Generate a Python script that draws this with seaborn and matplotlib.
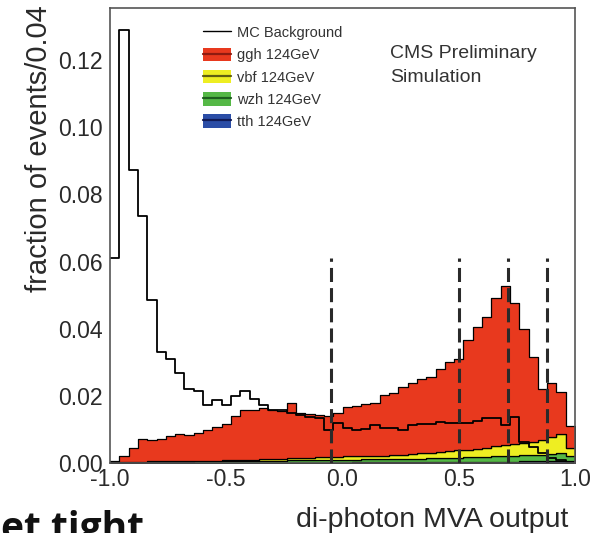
import numpy as np
import pandas as pd
import matplotlib
matplotlib.use("Agg")
import matplotlib.pyplot as plt
from matplotlib.lines import Line2D
from matplotlib.patches import Patch
from matplotlib.ticker import MultipleLocator, FormatStrFormatter
import seaborn as sns

# ---------------------------------------------------------------------------
# Di-photon MVA output, 50 bins of width 0.04 on [-1, 1]
# ---------------------------------------------------------------------------
bin_edges = np.linspace(-1.0, 1.0, 51)
bin_centers = 0.5 * (bin_edges[:-1] + bin_edges[1:])

mc_background = [
    0.0610, 0.1290, 0.0873, 0.0736, 0.0485, 0.0331, 0.0310, 0.0267, 0.0220, 0.0215,
    0.0174, 0.0188, 0.0174, 0.0200, 0.0215, 0.0190, 0.0174, 0.0159, 0.0157, 0.0149,
    0.0144, 0.0138, 0.0134, 0.0098, 0.0120, 0.0104, 0.0098, 0.0100, 0.0113, 0.0105,
    0.0105, 0.0098, 0.0113, 0.0116, 0.0116, 0.0123, 0.0119, 0.0119, 0.0119, 0.0126,
    0.0134, 0.0134, 0.0113, 0.0138, 0.0063, 0.0049, 0.0030, 0.0015, 0.0008, 0.0003,
]

ggh_124 = [
    0.0004, 0.0017, 0.0042, 0.0066, 0.0064, 0.0067, 0.0075, 0.0080, 0.0077, 0.0083,
    0.0092, 0.0101, 0.0108, 0.0132, 0.0148, 0.0149, 0.0153, 0.0145, 0.0141, 0.0166,
    0.0134, 0.0131, 0.0127, 0.0122, 0.0129, 0.0148, 0.0150, 0.0155, 0.0159, 0.0181,
    0.0184, 0.0201, 0.0211, 0.0221, 0.0225, 0.0247, 0.0265, 0.0272, 0.0326, 0.0362,
    0.0389, 0.0440, 0.0473, 0.0419, 0.0339, 0.0252, 0.0152, 0.0160, 0.0126, 0.0065,
]

vbf_124 = [
    0.00010, 0.00010, 0.00015, 0.00010, 0.00020, 0.00015, 0.00015, 0.00020, 0.00020, 0.00015,
    0.00025, 0.00020, 0.00030, 0.00025, 0.00030, 0.00040, 0.00045, 0.00050, 0.00060, 0.00065,
    0.00070, 0.00075, 0.00080, 0.00090, 0.00095, 0.00100, 0.00100, 0.00105, 0.00100, 0.00110,
    0.00115, 0.00130, 0.00145, 0.00160, 0.00175, 0.00190, 0.00200, 0.00220, 0.00230, 0.00250,
    0.00270, 0.00300, 0.00330, 0.00360, 0.00380, 0.00400, 0.00430, 0.00510, 0.00550, 0.00230,
]

wzh_124 = [
    0.00017, 0.00017, 0.00021, 0.00026, 0.00026, 0.00030, 0.00030, 0.00035, 0.00034, 0.00039,
    0.00039, 0.00043, 0.00043, 0.00047, 0.00052, 0.00051, 0.00056, 0.00060, 0.00060, 0.00064,
    0.00069, 0.00073, 0.00078, 0.00077, 0.00081, 0.00086, 0.00085, 0.00089, 0.00093, 0.00092,
    0.00096, 0.00100, 0.00104, 0.00108, 0.00111, 0.00115, 0.00123, 0.00131, 0.00139, 0.00147,
    0.00155, 0.00163, 0.00170, 0.00177, 0.00184, 0.00190, 0.00195, 0.00210, 0.00230, 0.00160,
]

tth_124 = [
    0.00003, 0.00003, 0.00004, 0.00004, 0.00004, 0.00005, 0.00005, 0.00005, 0.00006, 0.00006,
    0.00006, 0.00007, 0.00007, 0.00008, 0.00008, 0.00009, 0.00009, 0.00010, 0.00010, 0.00011,
    0.00011, 0.00012, 0.00012, 0.00013, 0.00014, 0.00014, 0.00015, 0.00016, 0.00017, 0.00018,
    0.00019, 0.00020, 0.00021, 0.00022, 0.00024, 0.00025, 0.00027, 0.00029, 0.00031, 0.00033,
    0.00035, 0.00037, 0.00040, 0.00043, 0.00046, 0.00050, 0.00055, 0.00060, 0.00070, 0.00060,
]

process_names = ["ggh 124GeV", "vbf 124GeV", "wzh 124GeV", "tth 124GeV"]
process_fill = ["#E8391E", "#EEEE22", "#55B846", "#2B4DA6"]
process_line = ["#8E1B10", "#5E5E12", "#1E5E1E", "#111A55"]

# category boundaries on the MVA output
cut_boundaries = [-0.05, 0.50, 0.71, 0.88]
cut_line_top = 0.061

x_ticks = [-1.0, -0.5, 0.0, 0.5, 1.0]
y_ticks = [0.00, 0.02, 0.04, 0.06, 0.08, 0.10, 0.12]

# ---------------------------------------------------------------------------
sns.set_style("white")
plt.rcParams["font.family"] = ["Liberation Sans", "DejaVu Sans"]

W, H = 608, 533
fig = plt.figure(figsize=(W / 100, H / 100), dpi=100)
ax = fig.add_axes([110 / W, 1 - 463 / H, 465 / W, 455 / H])

signal_df = pd.DataFrame({
    "mva": np.tile(bin_centers, 4),
    "frac": np.concatenate([ggh_124, vbf_124, wzh_124, tth_124]),
    "process": np.repeat(process_names, len(bin_centers)),
})

edges_list = bin_edges.tolist()

# stacked signal: first hue level ends up on top of the stack
sns.histplot(
    data=signal_df, x="mva", weights="frac", hue="process",
    hue_order=process_names, palette=dict(zip(process_names, process_fill)),
    bins=edges_list, multiple="stack", element="step", fill=True,
    alpha=1.0, edgecolor="black", linewidth=0.9, legend=False, ax=ax,
)

# MC background outline
sns.histplot(
    x=bin_centers, weights=mc_background, bins=edges_list,
    element="step", fill=False, color="black", linewidth=1.3, ax=ax,
)

ax.vlines(cut_boundaries, 0, cut_line_top, colors="#2a2a2a",
          linestyles=(0, (4.6, 2.0)), linewidth=2.2, zorder=5)

ax.set_xlim(-1.0, 1.0)
ax.set_ylim(0, 0.1355)
ax.set_xticks(x_ticks)
ax.set_yticks(y_ticks)
ax.xaxis.set_minor_locator(MultipleLocator(0.1))
ax.yaxis.set_minor_locator(MultipleLocator(0.005))
ax.xaxis.set_major_formatter(FormatStrFormatter("%.1f"))
ax.yaxis.set_major_formatter(FormatStrFormatter("%.2f"))

ax.tick_params(which="both", direction="in", top=False, right=False,
               color="#555555", width=1.0, labelcolor="#2a2a2a", labelsize=16.6)
ax.tick_params(axis="y", which="major", length=9.8, pad=5)
ax.tick_params(axis="y", which="minor", length=4.5)
ax.tick_params(axis="x", which="major", length=10, pad=3.6)
ax.tick_params(axis="x", which="minor", length=5)

for side in ["left", "bottom", "top", "right"]:
    ax.spines[side].set_visible(True)
    ax.spines[side].set_color("#555555")
    ax.spines[side].set_linewidth(1.2)

ax.set_xlabel("di-photon MVA output", fontsize=20.5, color="#2a2a2a", loc="right")
ax.xaxis.label.set_verticalalignment("baseline")
ax.xaxis.set_label_coords((568 - 110) / 465, (463 - 527) / 455)

ax.set_ylabel("fraction of events/0.04", fontsize=21, color="#2a2a2a", loc="top")
ax.yaxis.label.set_verticalalignment("baseline")
ax.yaxis.set_label_coords((47 - 110) / 465, (463 - 5) / 455)

# legend: filled box with the histogram's line colour drawn through it
handles = [Line2D([], [], color="black", lw=1.0)]
for fc, lc in zip(process_fill, process_line):
    handles.append((Patch(facecolor=fc, edgecolor="none"),
                    Line2D([], [], color=lc, lw=1.6)))
labels = ["MC Background"] + process_names
fig.legend(handles, labels, loc="upper left",
           bbox_to_anchor=(203 / W, 1 - 25.5 / H), frameon=False,
           fontsize=10.5, handlelength=1.92, handleheight=1.03,
           handletextpad=0.41, labelspacing=0.52, borderpad=0,
           borderaxespad=0, labelcolor="#333333")

ax.text((390 - 110) / 465, (463 - 53) / 455, "CMS Preliminary",
        transform=ax.transAxes, fontsize=14, color="#333333",
        ha="left", va="center")
ax.text((390 - 110) / 465, (463 - 78) / 455, "Simulation",
        transform=ax.transAxes, fontsize=14, color="#333333",
        ha="left", va="center")

fig.text(1 / W, 1 - 540 / H, "et tight", fontsize=28, fontweight="bold",
         color="#111111", ha="left", va="baseline",
         family=["Open Sans", "DejaVu Sans"])

fig.savefig("out.png", dpi=100)
